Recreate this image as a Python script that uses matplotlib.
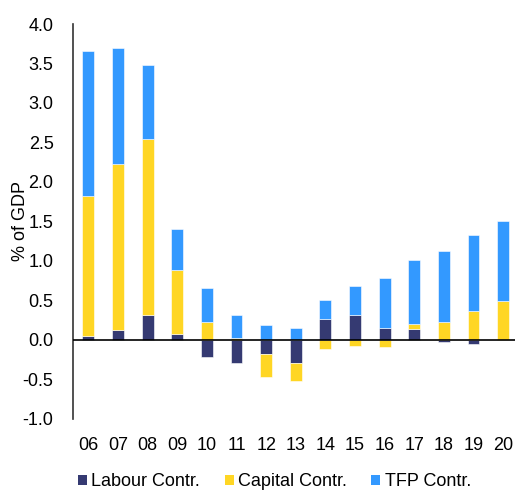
import numpy as np
import matplotlib.pyplot as plt
from matplotlib.patches import Patch

plt.rcParams['font.family'] = ['Liberation Sans', 'DejaVu Sans']
plt.rcParams['axes.unicode_minus'] = False

years = ['06', '07', '08', '09', '10', '11', '12', '13', '14', '15', '16', '17', '18', '19', '20']
labour = [0.05, 0.12, 0.31, 0.08, -0.21, -0.29, -0.18, -0.29, 0.26, 0.32, 0.15, 0.14, -0.02, -0.05, 0.0]
capital = [1.77, 2.11, 2.23, 0.80, 0.23, 0.02, -0.29, -0.23, -0.12, -0.08, -0.09, 0.06, 0.23, 0.37, 0.49]
tfp = [1.84, 1.46, 0.94, 0.52, 0.43, 0.30, 0.19, 0.155, 0.25, 0.36, 0.63, 0.81, 0.89, 0.96, 1.01]

series = [('Labour Contr.', labour, '#353A72'),
          ('Capital Contr.', capital, '#FFD624'),
          ('TFP Contr.', tfp, '#3399FF')]

fig = plt.figure(figsize=(5.15, 4.9), dpi=100)
ax = fig.add_axes([0.1417, 0.145, 0.8583, 0.806])

x = np.arange(len(years))
pos_bottom = np.zeros(len(years))
neg_bottom = np.zeros(len(years))
for name, vals, col in series:
    v = np.array(vals)
    bottom = np.where(v >= 0, pos_bottom, neg_bottom)
    ax.bar(x, v, 0.4, bottom=bottom, color=col, edgecolor='white', linewidth=0.4, zorder=2)
    pos_bottom += np.where(v >= 0, v, 0)
    neg_bottom += np.where(v < 0, v, 0)

ax.axhline(0, color='black', linewidth=1.2, zorder=3)
ax.set_xlim(-0.52, 14.4)
ax.set_ylim(-1.0, 4.0)
ax.set_yticks(np.arange(-1.0, 4.01, 0.5))
ax.set_yticklabels([f'{t:.1f}' for t in np.arange(-1.0, 4.01, 0.5)])
ax.set_xticks(x)
ax.set_xticklabels(years)
ax.tick_params(axis='both', length=0, labelsize=13, colors='black')
ax.tick_params(axis='x', pad=13)
ax.tick_params(axis='y', pad=14)
for s in ['top', 'right', 'bottom']:
    ax.spines[s].set_visible(False)
ax.spines['left'].set_color('#333333')
ax.spines['left'].set_linewidth(1.2)
ax.set_ylabel('% of GDP', fontsize=13)
ax.yaxis.set_label_coords(-0.1, 0.5)

handles = [Patch(facecolor=c, edgecolor='none', label=n) for n, _, c in series]
fig.legend(handles=handles, loc='center', bbox_to_anchor=(0.533, 0.017), ncol=3, frameon=False,
           fontsize=13, handlelength=0.5, handleheight=0.5, handletextpad=0.25, columnspacing=1.35)

fig.savefig('out.png', dpi=100)
